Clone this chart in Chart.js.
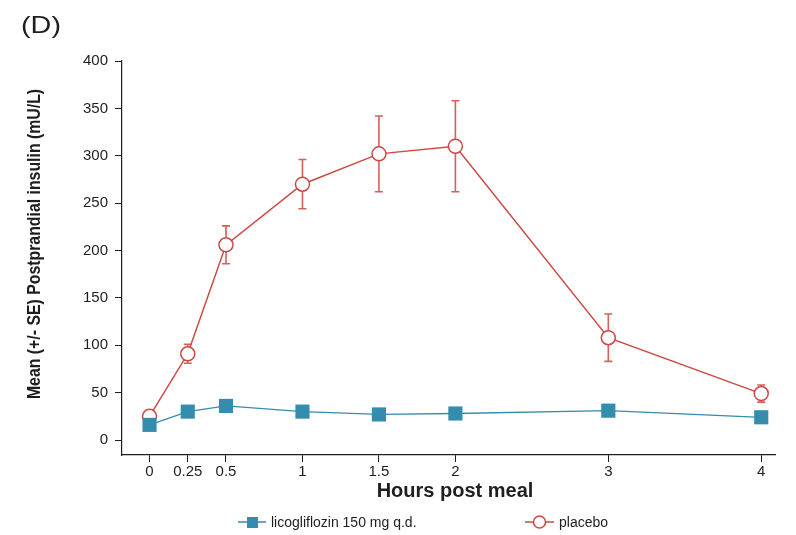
<!DOCTYPE html>
<html>
<head>
<meta charset="utf-8">
<script src="https://cdn.jsdelivr.net/npm/chart.js@4.4.1/dist/chart.umd.min.js"></script>
<style>
  html, body { margin: 0; padding: 0; background: #ffffff; }
  #wrap { width: 796px; height: 535px; }
</style>
</head>
<body>
<div id="wrap"><canvas id="c" width="796" height="535"></canvas></div>
<script>
// Hours after the meal
const hours = [0, 0.25, 0.5, 1, 1.5, 2, 3, 4];
// Mean postprandial insulin (mU/L)
const licogliflozin = [16, 30, 36, 30, 27, 28, 31, 24];
const placebo = [25, 91, 206, 270, 302, 310, 108, 49];
// Standard error of the placebo means
const placeboSE = [0, 10, 20, 26, 40, 48, 25, 9];
// Axis ticks
const xTicks = [0, 0.25, 0.5, 1, 1.5, 2, 3, 4];
const yTicks = [0, 50, 100, 150, 200, 250, 300, 350, 400];

const TEAL = 'rgb(52,141,172)';
const RED = 'rgb(206,72,66)';
const RED_BAR = 'rgb(214,96,92)';
const INK = '#1e1e1e';
const FONT = "'Liberation Sans', Arial, Helvetica, sans-serif";

// Error bars drawn under the placebo markers
const errorBars = {
  id: 'errorBars',
  beforeDatasetsDraw(chart) {
    const { ctx, scales: { x, y } } = chart;
    ctx.save();
    ctx.strokeStyle = RED_BAR;
    ctx.lineWidth = 1.6;
    hours.forEach((h, i) => {
      const se = placeboSE[i];
      if (!se) return;
      const px = x.getPixelForValue(h);
      const top = y.getPixelForValue(placebo[i] + se);
      const bot = y.getPixelForValue(placebo[i] - se);
      ctx.beginPath();
      ctx.moveTo(px, top); ctx.lineTo(px, bot);
      ctx.moveTo(px - 4, top); ctx.lineTo(px + 4, top);
      ctx.moveTo(px - 4, bot); ctx.lineTo(px + 4, bot);
      ctx.stroke();
    });
    ctx.restore();
  }
};

// Panel letter, axis titles and a line-plus-marker legend
const decorations = {
  id: 'decorations',
  afterDraw(chart) {
    const { ctx } = chart;
    ctx.save();
    ctx.fillStyle = INK;
    ctx.textBaseline = 'middle';

    // panel letter
    ctx.save();
    ctx.translate(21, 26);
    ctx.scale(1.2, 1);
    ctx.font = `24px ${FONT}`;
    ctx.textAlign = 'left';
    ctx.fillText('(D)', 0, 0);
    ctx.restore();

    // y axis title (condensed bold)
    ctx.save();
    ctx.translate(35, 244);
    ctx.rotate(-Math.PI / 2);
    ctx.scale(0.88, 1);
    ctx.font = `bold 18px ${FONT}`;
    ctx.textAlign = 'center';
    ctx.fillText('Mean (+/- SE) Postprandial insulin (mU/L)', 0, 0);
    ctx.restore();

    // x axis title
    ctx.font = `bold 20px ${FONT}`;
    ctx.textAlign = 'center';
    ctx.fillText('Hours post meal', 455, 491);

    // legend
    const ly = 522;
    ctx.textAlign = 'left';
    ctx.strokeStyle = TEAL;
    ctx.lineWidth = 1.5;
    ctx.beginPath(); ctx.moveTo(238, ly); ctx.lineTo(266, ly); ctx.stroke();
    ctx.fillStyle = TEAL;
    ctx.fillRect(247, ly - 5, 11, 11);
    ctx.fillStyle = INK;
    ctx.font = `14px ${FONT}`;
    ctx.fillText(chart.data.datasets[0].label, 271, ly + 1);
    ctx.strokeStyle = RED;
    ctx.beginPath(); ctx.moveTo(525, ly); ctx.lineTo(554, ly); ctx.stroke();
    ctx.fillStyle = '#ffffff';
    ctx.beginPath(); ctx.arc(539.5, ly, 6, 0, Math.PI * 2); ctx.fill(); ctx.stroke();
    ctx.fillStyle = INK;
    ctx.fillText(chart.data.datasets[1].label, 559, ly + 1);
    ctx.restore();
  }
};

new Chart(document.getElementById('c'), {
  type: 'line',
  data: {
    datasets: [
      {
        label: 'licogliflozin 150 mg q.d.',
        data: hours.map((h, i) => ({ x: h, y: licogliflozin[i] })),
        borderColor: TEAL,
        borderWidth: 1.3,
        pointStyle: 'rect',
        pointRadius: 10,
        pointBackgroundColor: TEAL,
        pointBorderColor: TEAL,
        pointBorderWidth: 0,
        tension: 0
      },
      {
        label: 'placebo',
        data: hours.map((h, i) => ({ x: h, y: placebo[i] })),
        borderColor: RED,
        borderWidth: 1.5,
        pointStyle: 'circle',
        pointRadius: 7,
        pointBackgroundColor: '#ffffff',
        pointBorderColor: RED,
        pointBorderWidth: 1.5,
        tension: 0
      }
    ]
  },
  options: {
    responsive: false,
    animation: false,
    devicePixelRatio: 1,
    layout: { padding: { top: 61, right: 21, bottom: 35, left: 0 } },
    plugins: { legend: { display: false }, tooltip: { enabled: false } },
    scales: {
      x: {
        type: 'linear',
        min: -0.18,
        max: 4.09,
        afterBuildTicks: (s) => { s.ticks = xTicks.map(v => ({ value: v })); },
        afterFit: (s) => { s.height = 45; },
        grid: { drawOnChartArea: false, drawTicks: true, tickLength: 7, color: INK, lineWidth: 1 },
        border: { display: true, color: INK, width: 1.2 },
        ticks: { color: INK, font: { family: FONT, size: 15 }, padding: 1, maxRotation: 0, autoSkip: false, callback: (v) => String(v) }
      },
      y: {
        min: -15.8,
        max: 400,
        afterBuildTicks: (s) => { s.ticks = yTicks.map(v => ({ value: v })); },
        afterFit: (s) => { s.width = 122; },
        grid: { drawOnChartArea: false, drawTicks: true, tickLength: 7, color: INK, lineWidth: 1 },
        border: { display: true, color: INK, width: 1.2 },
        ticks: { color: INK, font: { family: FONT, size: 15 }, padding: 7, callback: (v) => String(v) }
      }
    }
  },
  plugins: [errorBars, decorations]
});
</script>
</body>
</html>
